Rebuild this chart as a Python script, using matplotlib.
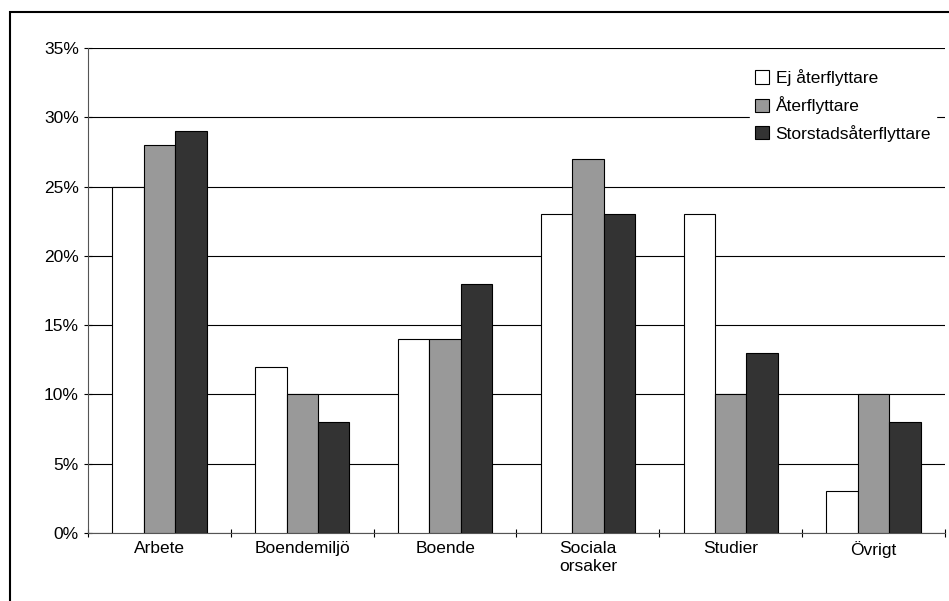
import matplotlib.pyplot as plt
from matplotlib.patches import Rectangle
import numpy as np

plt.rcParams['font.family'] = ['Liberation Sans', 'DejaVu Sans']

categories = ["Arbete", "Boendemiljö", "Boende", "Sociala\norsaker", "Studier", "Övrigt"]
ej = [25, 12, 14, 23, 23, 3]
ater = [28, 10, 14, 27, 10, 10]
storstad = [29, 8, 18, 23, 13, 8]

fig = plt.figure(figsize=(9.49, 6.01), dpi=100)
fig.patches.append(Rectangle((10/949, -0.01), 1.0, 1 - 12/601 + 0.01, transform=fig.transFigure,
                             fill=False, edgecolor='black', linewidth=1.5))
ax = fig.add_axes([88/949, 68/601, 857/949, 485/601])

x = np.arange(len(categories))
w = 0.22
ax.bar(x - w, ej, w, color='white', edgecolor='black', linewidth=0.8, label='Ej återflyttare', zorder=3)
ax.bar(x, ater, w, color='#999999', edgecolor='black', linewidth=0.8, label='Återflyttare', zorder=3)
ax.bar(x + w, storstad, w, color='#333333', edgecolor='black', linewidth=0.8, label='Storstadsåterflyttare', zorder=3)

ax.set_xlim(-0.5, len(categories) - 0.5)
ax.set_ylim(0, 35)
ax.set_yticks(range(0, 36, 5))
ax.set_yticklabels([f"{v}%" for v in range(0, 36, 5)], fontsize=12.5)
ax.yaxis.grid(True, color='black', linewidth=0.8, zorder=0)
ax.set_xticks(np.arange(len(categories) + 1) - 0.5, minor=False)
ax.set_xticklabels([])
ax.set_xticks(x, minor=True)
ax.set_xticklabels(categories, minor=True, fontsize=12.5)
ax.tick_params(axis='x', which='minor', length=0, pad=6)
ax.tick_params(axis='x', which='major', direction='inout', length=6)
ax.tick_params(axis='y', direction='inout', length=6)
for s in ['top', 'right']:
    ax.spines[s].set_visible(False)
ax.spines['bottom'].set_color('#555555')
ax.spines['left'].set_color('#555555')

leg = ax.legend(loc='upper right', bbox_to_anchor=(1.0, 0.985), fontsize=12.5, frameon=True,
                fancybox=False, handlelength=0.8, handleheight=0.8, handletextpad=0.4,
                labelspacing=0.6, borderpad=0.3)
leg.get_frame().set_edgecolor('white')
leg.get_frame().set_alpha(1)

fig.savefig('out.png', dpi=100)
